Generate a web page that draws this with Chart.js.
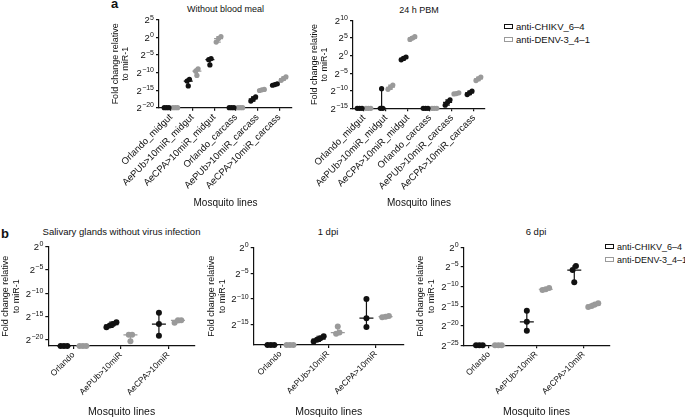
<!DOCTYPE html>
<html>
<head>
<meta charset="utf-8">
<script src="https://cdn.jsdelivr.net/npm/chart.js@4.4.1/dist/chart.umd.min.js"></script>
<style>
html, body { margin: 0; padding: 0; background: #fff; overflow: hidden; }
#fig { position: relative; width: 685px; height: 417px; font-family: "Liberation Sans", Arial, sans-serif; color: #111; }
canvas { position: absolute; }
.t { position: absolute; white-space: nowrap; line-height: 1; transform: translate(-50%, -50%); }
.lbl { position: absolute; font-weight: bold; font-size: 13px; line-height: 13px; }
.leg { position: absolute; font-size: 9.5px; line-height: 10px; white-space: nowrap; transform: translateY(-50%); }
.leg.sm { font-size: 9px; }
.leg span { display: inline-block; width: 7px; height: 3px; border: 1.5px solid; margin-right: 3px; vertical-align: 1px; }
</style>
</head>
<body>
<div id="fig">
  <div class="lbl" style="left:111px;top:-3px">a</div>
  <div class="lbl" style="left:1px;top:227px">b</div>
  <div class="t" style="left:225.5px;top:9px;font-size:9px">Without blood meal</div>
  <div class="t" style="left:419px;top:10px;font-size:9px">24 h PBM</div>
  <div class="t" style="left:121.5px;top:232px;font-size:9.5px">Salivary glands without virus infection</div>
  <div class="t" style="left:328px;top:232px;font-size:9.5px">1 dpi</div>
  <div class="t" style="left:536px;top:232px;font-size:9.5px">6 dpi</div>
  <div class="leg" style="left:504px;top:27px"><span style="border-color:#111"></span>anti-CHIKV_6–4</div>
  <div class="leg" style="left:504px;top:40px"><span style="border-color:#9a9a9a"></span>anti-DENV-3_4–1</div>
  <div class="leg sm" style="left:605px;top:247px"><span style="border-color:#111"></span>anti-CHIKV_6–4</div>
  <div class="leg sm" style="left:605px;top:260px"><span style="border-color:#9a9a9a"></span>anti-DENV-3_4–1</div>
  <canvas id="a1" width="195" height="209" style="left:111px;top:0px"></canvas>
  <canvas id="a2" width="185" height="209" style="left:310px;top:0px"></canvas>
  <canvas id="b1" width="215" height="192" style="left:0px;top:226px"></canvas>
  <canvas id="b2" width="210" height="192" style="left:205.6px;top:226px"></canvas>
  <canvas id="b3" width="200" height="192" style="left:414.6px;top:226px"></canvas>
</div>
<script>
// values are log2 fold change relative to miR-1 (exponent of 2)
var tissueLines = ['Orlando_midgut', 'AePUb>10miR_midgut', 'AeCPA>10miR_midgut',
                   'Orlando_carcass', 'AePUb>10miR_carcass', 'AeCPA>10miR_carcass'];
var noBloodChikv = [[-20, -20, -20], [-13.8, -12.4, -11.9], [-7.8, -6.3, -6.0],
                    [-20, -20, -20], [-18.1, -17.5, -16.9], [-13.6, -13.4, -13.2]];
var noBloodDenv  = [[-20, -20, -20], [-10.8, -9.6, -8.9], [-1.3, -0.3, 0.3],
                    [-20, -20, -20], [-15.1, -14.9, -14.8], [-12.2, -11.7, -11.2]];
var pbmChikv = [[-15, -15, -15], [-15, -15, -9.4], [-1.2, -0.8, -0.4],
                [-15, -15, -15], [-14.1, -13.3, -12.6], [-11.1, -10.6, -10.1]];
var pbmDenv  = [[-15, -15, -15], [-9.6, -9.0, -8.4], [4.6, 5.0, 5.4],
                [-15, -15, -15], [-10.9, -10.8, -10.6], [-7.1, -6.6, -6.1]];
var noBloodTicks = [5, 0, -5, -10, -15, -20];
var pbmTicks = [10, 5, 0, -5, -10, -15];

var mosquitoLines = ['Orlando', 'AePUb>10miR', 'AeCPA>10miR'];
var salivaryChikv = [[-21.3, -21.3, -21.3], [-17.3, -16.9, -16.6, -16.2], [-19.1, -16.6, -14.2]];
var salivaryDenv  = [[-21.3, -21.3, -21.3], [-20.3, -18.9, -18.9], [-16.3, -15.8, -15.8]];
var dpi1Chikv = [[-18.9, -18.9, -18.9], [-18.2, -17.9, -17.6, -17.2], [-15.4, -13.7, -10.0]];
var dpi1Denv  = [[-18.9, -18.9, -18.9], [-16.7, -16.5, -15.3], [-13.5, -13.4, -13.3]];
var dpi6Chikv = [[-25, -25, -25], [-21.3, -19.0, -16.2], [-8.9, -5.8, -4.8]];
var dpi6Denv  = [[-25, -25, -25], [-10.9, -10.7, -10.4], [-15.2, -15.0, -14.6, -14.3]];
var salivaryTicks = [0, -5, -10, -15, -20];
var dpi1Ticks = [0, -5, -10, -15];
var dpi6Ticks = [0, -5, -10, -15, -20, -25];

var FONT = '"Liberation Sans", Arial, "DejaVu Sans", sans-serif';
Chart.defaults.font.family = FONT;
Chart.defaults.color = '#111';

// spread overlapping points sideways, like a scatter dot plot
function spread(vals, center, step, gap) {
  var s = vals.slice().sort(function(a, b){ return a - b; });
  var out = [];
  var i = 0;
  while (i < s.length) {
    var j = i;
    while (j + 1 < s.length && s[j + 1] - s[j] < gap) j++;
    var n = j - i + 1;
    for (var k = 0; k < n; k++) out.push({x: center + (k - (n - 1) / 2) * step, y: s[i + k]});
    i = j + 1;
  }
  return out;
}

// median line + range whiskers for each group
var rangeBars = {
  id: 'rangeBars',
  beforeDatasetsDraw: function(chart, args, opts) {
    var ctx = chart.ctx, x = chart.scales.x, y = chart.scales.y;
    ctx.save();
    chart.data.datasets.forEach(function(ds) {
      ctx.strokeStyle = ds.borderColor;
      ctx.lineWidth = opts.lineWidth;
      ds.groups.forEach(function(vals, i) {
        var s = vals.slice().sort(function(a, b){ return a - b; });
        var mid = s.length >> 1;
        var med = s.length % 2 ? s[mid] : (s[mid - 1] + s[mid]) / 2;
        var cx = x.getPixelForValue(i + ds.shift);
        var lo = y.getPixelForValue(s[0]);
        var hi = y.getPixelForValue(s[s.length - 1]);
        var m = y.getPixelForValue(med);
        ctx.beginPath();
        ctx.moveTo(cx, lo); ctx.lineTo(cx, hi);
        ctx.moveTo(cx - opts.medHalf, m); ctx.lineTo(cx + opts.medHalf, m);
        ctx.moveTo(cx - opts.capHalf, lo); ctx.lineTo(cx + opts.capHalf, lo);
        ctx.moveTo(cx - opts.capHalf, hi); ctx.lineTo(cx + opts.capHalf, hi);
        ctx.stroke();
      });
    });
    ctx.restore();
  }
};

// y tick labels as powers of two: "2" with a raised exponent
var powLabels = {
  id: 'powLabels',
  afterDraw: function(chart) {
    var ctx = chart.ctx, y = chart.scales.y;
    ctx.save();
    ctx.fillStyle = '#111';
    ctx.textBaseline = 'alphabetic';
    y.ticks.forEach(function(t) {
      var py = y.getPixelForValue(t.value);
      var exp = String(t.value).replace('-', '\u2212');
      var right = y.right - 5;
      ctx.font = '7px ' + FONT;
      var ew = ctx.measureText(exp).width;
      ctx.fillText(exp, right - ew, py - 0.5);
      ctx.font = '9.5px ' + FONT;
      var bw = ctx.measureText('2').width;
      ctx.fillText('2', right - ew - bw - 0.3, py + 3.4);
    });
    ctx.restore();
  }
};

function panel(id, cats, chikv, denv, yTicks, g) {
  function makeSet(label, groups, shift, color) {
    var pts = [];
    groups.forEach(function(v, i){ pts = pts.concat(spread(v, i + shift, g.step, g.gap)); });
    return {
      label: label, data: pts, groups: groups, shift: shift,
      backgroundColor: color, borderColor: color,
      pointRadius: g.r, pointBorderWidth: 0, pointHoverRadius: g.r,
      showLine: false, clip: false
    };
  }
  new Chart(document.getElementById(id), {
    type: 'scatter',
    data: {
      datasets: [
        makeSet('anti-CHIKV_6–4', chikv, -0.2, '#111'),
        makeSet('anti-DENV-3_4–1', denv, 0.2, '#9a9a9a')
      ]
    },
    plugins: [rangeBars, powLabels],
    options: {
      responsive: false,
      animation: false,
      layout: { padding: { left: 0, top: g.padTop, right: g.padRight, bottom: 0 } },
      plugins: {
        legend: { display: false },
        tooltip: { enabled: false },
        rangeBars: { lineWidth: 1.2, medHalf: g.medHalf, capHalf: 2.2 }
      },
      scales: {
        x: {
          type: 'linear', min: g.xMin, max: g.xMax,
          afterBuildTicks: function(s){ s.ticks = cats.map(function(c, i){ return {value: i}; }); },
          afterFit: function(s){ s.height = g.xHeight; },
          ticks: {
            autoSkip: false, minRotation: 45, maxRotation: 45, padding: 1, color: '#111',
            font: { size: g.xFont },
            callback: function(v){ return cats[Math.round(v)]; }
          },
          grid: { display: true, drawOnChartArea: false, drawTicks: true, tickLength: 3, color: '#111', lineWidth: 1.2 },
          border: { display: true, color: '#111', width: 1.2 },
          title: { display: true, text: 'Mosquito lines', padding: 0, color: '#111', font: { size: g.xtFont, lineHeight: 1.2 } }
        },
        y: {
          min: g.yMin, max: g.yMax,
          afterBuildTicks: function(s){ s.ticks = yTicks.map(function(v){ return {value: v}; }); },
          afterFit: function(s){ s.width = g.yWidth; },
          ticks: { display: false },
          grid: { display: true, drawOnChartArea: false, drawTicks: true, tickLength: 3, color: '#111', lineWidth: 1.2 },
          border: { display: true, color: '#111', width: 1.2 },
          title: { display: true, text: ['Fold change relative', 'to miR-1'], padding: 0, color: '#111', font: { size: 9, lineHeight: g.ytLine } }
        }
      }
    }
  });
}

panel('a1', tissueLines, noBloodChikv, noBloodDenv, noBloodTicks,
  { yMin: -20, yMax: 5, xMin: -0.55, xMax: 5.59, padTop: 20, padRight: 14, yWidth: 48, xHeight: 101.3,
    xFont: 9.5, xtFont: 10, ytLine: 1.1, r: 2.6, step: 0.11, gap: 1.2, medHalf: 4.5 });
panel('a2', tissueLines, pbmChikv, pbmDenv, pbmTicks,
  { yMin: -15, yMax: 10, xMin: -0.5, xMax: 5.5, padTop: 20.5, padRight: 10, yWidth: 43, xHeight: 100.7,
    xFont: 9.5, xtFont: 10, ytLine: 1.1, r: 2.6, step: 0.11, gap: 1.2, medHalf: 4.5 });
panel('b1', mosquitoLines, salivaryChikv, salivaryDenv, salivaryTicks,
  { yMin: -21.3, yMax: 0, xMin: -0.53, xMax: 2.56, padTop: 20.6, padRight: 20, yWidth: 48.3, xHeight: 72,
    xFont: 8.5, xtFont: 10.5, ytLine: 1.2, r: 3, step: 0.07, gap: 1.1, medHalf: 7 });
panel('b2', mosquitoLines, dpi1Chikv, dpi1Denv, dpi1Ticks,
  { yMin: -18.9, yMax: 0, xMin: -0.56, xMax: 2.58, padTop: 21.5, padRight: 12.3, yWidth: 47.7, xHeight: 73,
    xFont: 8.5, xtFont: 10.5, ytLine: 1.2, r: 3, step: 0.07, gap: 1.1, medHalf: 7 });
panel('b3', mosquitoLines, dpi6Chikv, dpi6Denv, dpi6Ticks,
  { yMin: -25, yMax: 0, xMin: -0.53, xMax: 2.54, padTop: 21.3, padRight: 5.6, yWidth: 48.7, xHeight: 72.7,
    xFont: 8.5, xtFont: 10.5, ytLine: 1.2, r: 3, step: 0.07, gap: 1.1, medHalf: 7 });
</script>
</body>
</html>
